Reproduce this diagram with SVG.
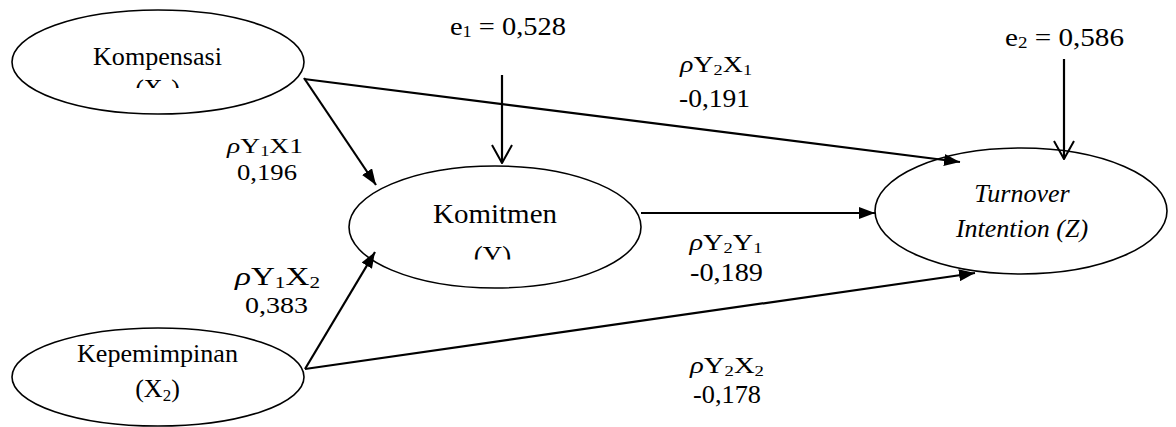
<svg xmlns="http://www.w3.org/2000/svg" width="1176" height="427" viewBox="0 0 1176 427" font-family="'Liberation Serif', 'Times New Roman', serif">
<style>
.node{fill:#fff;stroke:#000;stroke-width:1.6}
.t{font-family:'Liberation Serif','Times New Roman',serif;fill:#000;text-anchor:middle}
.it{font-style:italic}
.c{stroke:#000;stroke-width:2.2;fill:none}
.rho{font-style:italic}
</style>
<defs>
<marker id="ah" viewBox="0 0 16 12" refX="16" refY="6" markerWidth="16" markerHeight="12" markerUnits="userSpaceOnUse" orient="auto">
<path d="M0,0 L16,6 L0,12 z" fill="#000"/>
</marker>
<marker id="vh" viewBox="0 0 20 22" refX="19" refY="11" markerWidth="20" markerHeight="22" markerUnits="userSpaceOnUse" orient="auto">
<path d="M1,1 L19,11 L1,21" fill="none" stroke="#000" stroke-width="2"/>
</marker>
<clipPath id="clipX1"><rect x="0" y="0" width="320" height="88"/></clipPath>
<clipPath id="clipY"><rect x="340" y="150" width="320" height="109.5"/></clipPath>
</defs>

<g id="kompensasi">
<ellipse class="node" cx="158" cy="62" rx="146" ry="52"/>
<text class="t" x="157.5" y="65" font-size="26" textLength="129" lengthAdjust="spacingAndGlyphs">Kompensasi</text>
<text class="t" x="157.5" y="97" font-size="26" clip-path="url(#clipX1)">(X<tspan font-size="17" dy="4">1</tspan><tspan dy="-4">)</tspan></text>
</g>

<g id="kepemimpinan">
<ellipse class="node" cx="158" cy="377" rx="146" ry="49"/>
<text class="t" x="157.5" y="362" font-size="26" textLength="161" lengthAdjust="spacingAndGlyphs">Kepemimpinan</text>
<text class="t" x="157.5" y="397" font-size="26">(X<tspan font-size="17" dy="4">2</tspan><tspan dy="-4">)</tspan></text>
</g>

<g id="komitmen">
<ellipse class="node" cx="495" cy="227" rx="146" ry="61"/>
<text class="t" x="495" y="223" font-size="27" textLength="124" lengthAdjust="spacingAndGlyphs">Komitmen</text>
<text class="t" x="492.5" y="265" font-size="27" clip-path="url(#clipY)">(Y)</text>
</g>

<g id="turnover">
<ellipse class="node" cx="1021" cy="211" rx="146" ry="63"/>
<text class="t it" x="1022" y="202" font-size="26">Turnover</text>
<text class="t it" x="1022" y="237" font-size="26">Intention (Z)</text>
</g>

<g id="connectors">
<line class="c" x1="304" y1="78" x2="376" y2="185" marker-end="url(#ah)"/>
<line class="c" x1="304" y1="79" x2="960" y2="162" marker-end="url(#ah)"/>
<line class="c" x1="305" y1="369" x2="375" y2="252" marker-end="url(#ah)"/>
<line class="c" x1="305" y1="369" x2="975" y2="273" marker-end="url(#ah)"/>
<line class="c" x1="641" y1="213" x2="875" y2="213" marker-end="url(#ah)"/>
<line class="c" x1="502" y1="75" x2="502" y2="163" marker-end="url(#vh)"/>
<line class="c" x1="1064" y1="59" x2="1064" y2="159" marker-end="url(#vh)"/>
</g>

<g id="labels">
<text class="t" x="508" y="35" font-size="25" textLength="116" lengthAdjust="spacingAndGlyphs">e<tspan font-size="16" dy="2">1</tspan><tspan dy="-2"> = 0,528</tspan></text>
<text class="t" x="1064.5" y="46" font-size="26" textLength="119" lengthAdjust="spacingAndGlyphs">e<tspan font-size="17" dy="2">2</tspan><tspan dy="-2"> = 0,586</tspan></text>

<text class="t" x="265" y="153" font-size="21" textLength="76" lengthAdjust="spacingAndGlyphs"><tspan class="rho">ρ</tspan>Y<tspan font-size="14" dy="3">1</tspan><tspan dy="-3">X1</tspan></text>
<text class="t" x="267" y="180" font-size="23" textLength="60" lengthAdjust="spacingAndGlyphs">0,196</text>

<text class="t" x="277.5" y="285" font-size="25" textLength="85" lengthAdjust="spacingAndGlyphs"><tspan class="rho">ρ</tspan>Y<tspan font-size="16" dy="3">1</tspan><tspan dy="-3">X</tspan><tspan font-size="16" dy="3">2</tspan></text>
<text class="t" x="276.5" y="313" font-size="24" textLength="63" lengthAdjust="spacingAndGlyphs">0,383</text>

<text class="t" x="716" y="72" font-size="23" textLength="72" lengthAdjust="spacingAndGlyphs"><tspan class="rho">ρ</tspan>Y<tspan font-size="15" dy="3">2</tspan><tspan dy="-3">X</tspan><tspan font-size="15" dy="3">1</tspan></text>
<text class="t" x="714.5" y="107" font-size="25" textLength="71" lengthAdjust="spacingAndGlyphs">-0,191</text>

<text class="t" x="726" y="250" font-size="23" textLength="73" lengthAdjust="spacingAndGlyphs"><tspan class="rho">ρ</tspan>Y<tspan font-size="15" dy="3">2</tspan><tspan dy="-3">Y</tspan><tspan font-size="15" dy="3">1</tspan></text>
<text class="t" x="726.5" y="281" font-size="25" textLength="73" lengthAdjust="spacingAndGlyphs">-0,189</text>

<text class="t" x="727" y="373" font-size="23" textLength="74" lengthAdjust="spacingAndGlyphs"><tspan class="rho">ρ</tspan>Y<tspan font-size="15" dy="3">2</tspan><tspan dy="-3">X</tspan><tspan font-size="15" dy="3">2</tspan></text>
<text class="t" x="727" y="403" font-size="25" textLength="68" lengthAdjust="spacingAndGlyphs">-0,178</text>
</g>
</svg>
